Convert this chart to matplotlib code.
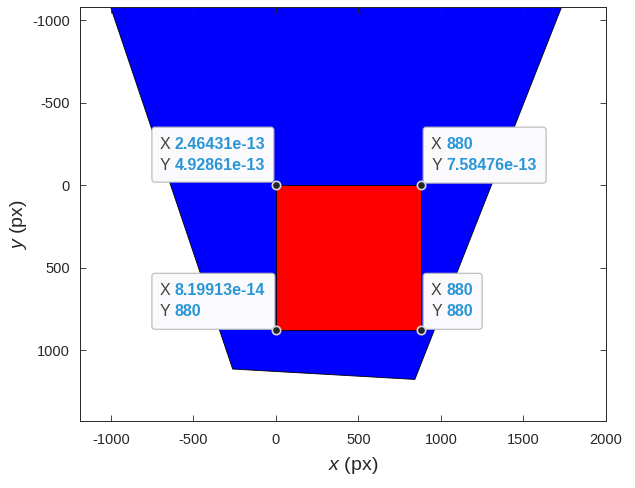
import matplotlib
matplotlib.use('Agg')
import matplotlib.pyplot as plt
from matplotlib.patches import Polygon, FancyBboxPatch
import matplotlib.transforms as mtransforms

plt.rcParams['font.family'] = ['Liberation Sans', 'DejaVu Sans']
plt.rcParams['mathtext.fontset'] = 'custom'
plt.rcParams['mathtext.it'] = 'Liberation Sans:italic'
plt.rcParams['mathtext.rm'] = 'Liberation Sans'

# ---- data ----
footprint_x = [-1076, 1818, 842, -262]
footprint_y = [-1300, -1300, 1178, 1115]
square_x = [0, 880, 880, 0]
square_y = [0, 0, 880, 880]
tip_x = [2.46431e-13, 880, 8.19913e-14, 880]
tip_y = [4.92861e-13, 7.58476e-13, 880, 880]
tip_xlabels = ['2.46431e-13', '880', '8.19913e-14', '880']
tip_ylabels = ['4.92861e-13', '7.58476e-13', '880', '880']
xticks = [-1000, -500, 0, 500, 1000, 1500, 2000]
yticks = [-1000, -500, 0, 500, 1000]

# ---- styling: datatip box offsets in pixels (x0, x1, y0, y1), y up ----
tip_boxes = [(-124, -2, 3, 58), (2, 125, 2, 58), (-124, -1, 1, 57), (2, 61, 1, 57)]

dark = '#262626'
blue_txt = '#2A96D6'

fig = plt.figure(figsize=(6.35, 4.88), dpi=100)
ax = fig.add_axes([0.1252, 0.1373, 0.8291, 0.8484])

ax.add_patch(Polygon(list(zip(footprint_x, footprint_y)), closed=True,
                     facecolor='#0000ff', edgecolor='black', linewidth=0.6, zorder=1))
ax.add_patch(Polygon(list(zip(square_x, square_y)), closed=True,
                     facecolor='#ff0000', edgecolor='black', linewidth=0.6, zorder=2))

ax.set_xlim(-1190, 2000)
ax.set_ylim(1430, -1080)
ax.set_xticks(xticks)
ax.set_yticks(yticks)
ax.set_xticklabels([str(t) for t in xticks])
ax.set_yticklabels([str(t) for t in yticks])
ax.tick_params(direction='in', length=4, width=0.6, top=True, right=True,
               color=dark, labelcolor=dark, labelsize=10.5)
ax.tick_params(axis='x', pad=9)
ax.tick_params(axis='y', pad=7)
for sp in ax.spines.values():
    sp.set_color(dark)
    sp.set_linewidth(0.7)

ax.set_xlabel('$x$ (px)', fontsize=14, color=dark)
ax.set_ylabel('$y$ (px)', fontsize=14, color=dark)
ax.xaxis.set_label_coords(0.52, -0.082)
ax.yaxis.set_label_coords(-0.096, 0.475)

# data tips
for x, y, lx, ly, (bx0, bx1, by0, by1) in zip(tip_x, tip_y, tip_xlabels, tip_ylabels, tip_boxes):
    trans = mtransforms.Affine2D() + mtransforms.ScaledTranslation(x, y, ax.transData)
    box = FancyBboxPatch((bx0, by0), bx1 - bx0, by1 - by0,
                         boxstyle='round,pad=0,rounding_size=3',
                         facecolor='#fafafc', edgecolor='#b8b8b8', linewidth=0.8,
                         transform=trans, zorder=6, clip_on=False)
    ax.add_patch(box)
    ax.text(bx0 + 8, by1 - 17, 'X', transform=trans, ha='left', va='center',
            fontsize=11.5, color='#404040', zorder=7)
    ax.text(bx0 + 23, by1 - 17, lx, transform=trans, ha='left', va='center',
            fontsize=11.5, fontweight='bold', color=blue_txt, zorder=7)
    ax.text(bx0 + 8, by1 - 38, 'Y', transform=trans, ha='left', va='center',
            fontsize=11.5, color='#404040', zorder=7)
    ax.text(bx0 + 23, by1 - 38, ly, transform=trans, ha='left', va='center',
            fontsize=11.5, fontweight='bold', color=blue_txt, zorder=7)

ax.plot(tip_x, tip_y, 'o', ms=6, mfc=dark, mec='#d8d8d8', mew=1.2, zorder=8, clip_on=False)

fig.savefig('out.png', dpi=100)
